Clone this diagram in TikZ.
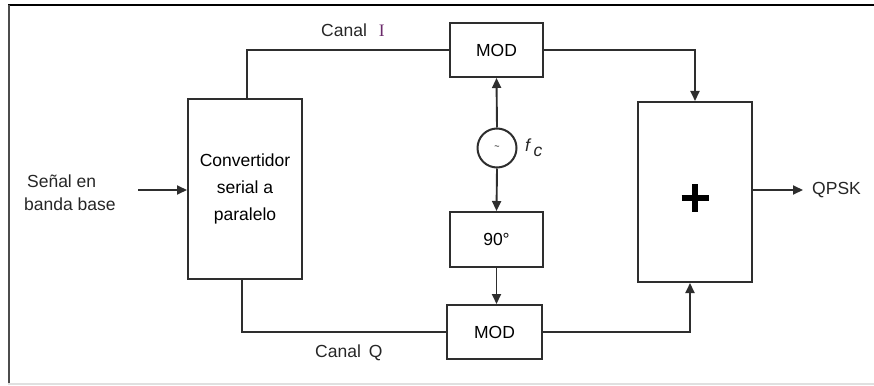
\documentclass[tikz,border=0pt]{standalone}
\usepackage{fontspec}
\setmainfont{Liberation Sans}
\newfontfamily\serifI{Liberation Serif}
\usetikzlibrary{arrows.meta,calc}
\definecolor{ln}{HTML}{2E2E2E}
\definecolor{ipurple}{HTML}{6A2A6A}
\begin{document}
\begin{tikzpicture}[x=1pt,y=-1pt,
  font=\fontsize{17.5}{21}\selectfont,
  blk/.style={draw=ln,line width=2pt,fill=white,inner sep=0pt},
  wire/.style={draw=ln,line width=1.9pt},
  arr/.style={wire,-{Triangle[length=10pt,width=9pt]}},
  txt/.style={inner sep=0pt,text=black!85}
]
\useasboundingbox (0,0) rectangle (874,385);
% frame
\draw[black,line width=2pt] (8,5) -- (874,5);
\draw[black!70,line width=2.5pt] (9,5) -- (9,385);
\draw[black!12,line width=1.5pt] (8,384) -- (874,384);

% blocks
\node[blk,minimum width=114pt,minimum height=180pt,align=center,
      font=\fontsize{17.5}{27}\selectfont] (conv) at (245,189) {Convertidor\\serial a\\paralelo};
\node[blk,minimum width=93pt,minimum height=54pt] (modI) at (496.5,50) {MOD};
\node[blk,circle,minimum size=39pt] (osc) at (497,148) {\fontsize{9}{9}\selectfont\textasciitilde};
\node[blk,minimum width=93pt,minimum height=55pt] (ph) at (496.5,239.5) {90°};
\node[blk,minimum width=95pt,minimum height=54pt] (modQ) at (494.5,332) {MOD};
\node[blk,minimum width=114pt,minimum height=180pt] (sum) at (695,192) {};
\draw[black,line width=6.5pt] ($(sum.center)+(-13.5,6)$) -- ($(sum.center)+(13.5,6)$);
\draw[black,line width=6.5pt] ($(sum.center)+(0,-8)$) -- ($(sum.center)+(0,20)$);

% labels
\node[txt,anchor=west,align=left,font=\fontsize{17.5}{23}\selectfont] (inlbl) at (24,193) {\,Señal en\\banda base};
\coordinate (inpt) at (138,190);
\coordinate (outpt) at (803,190);
\node[txt,anchor=west] (qpsk) at (812,190) {QPSK};
\node[txt,anchor=west] (cI) at (321,30) {Canal\hspace{12pt}{\serifI\color{ipurple}I}};
\node[txt,anchor=west] (cQ) at (315,353) {Canal\hspace{8pt}Q};
\node[txt,anchor=west] (fc) at (525,148) {\textit{f}\hspace{2pt}\raisebox{-5pt}{\textit{c}}};

% connectors
\draw[arr] (inpt) -- (inpt -| conv.west);
\draw[wire] ([xshift=2pt]conv.north) |- (modI.west);
\draw[wire] ([xshift=-3pt]conv.south) |- (modQ.west);
\draw[arr] (osc.north) -- (modI.south);
\draw[arr] (osc.south) -- (ph.north);
\draw[arr] (ph.south) -- (ph.south |- modQ.north);
\draw[arr] (modI.east) -| (sum.north);
\draw[arr] (modQ.east) -| ([xshift=-5pt]sum.south);
\draw[arr] (outpt -| sum.east) -- (outpt);
\end{tikzpicture}
\end{document}
